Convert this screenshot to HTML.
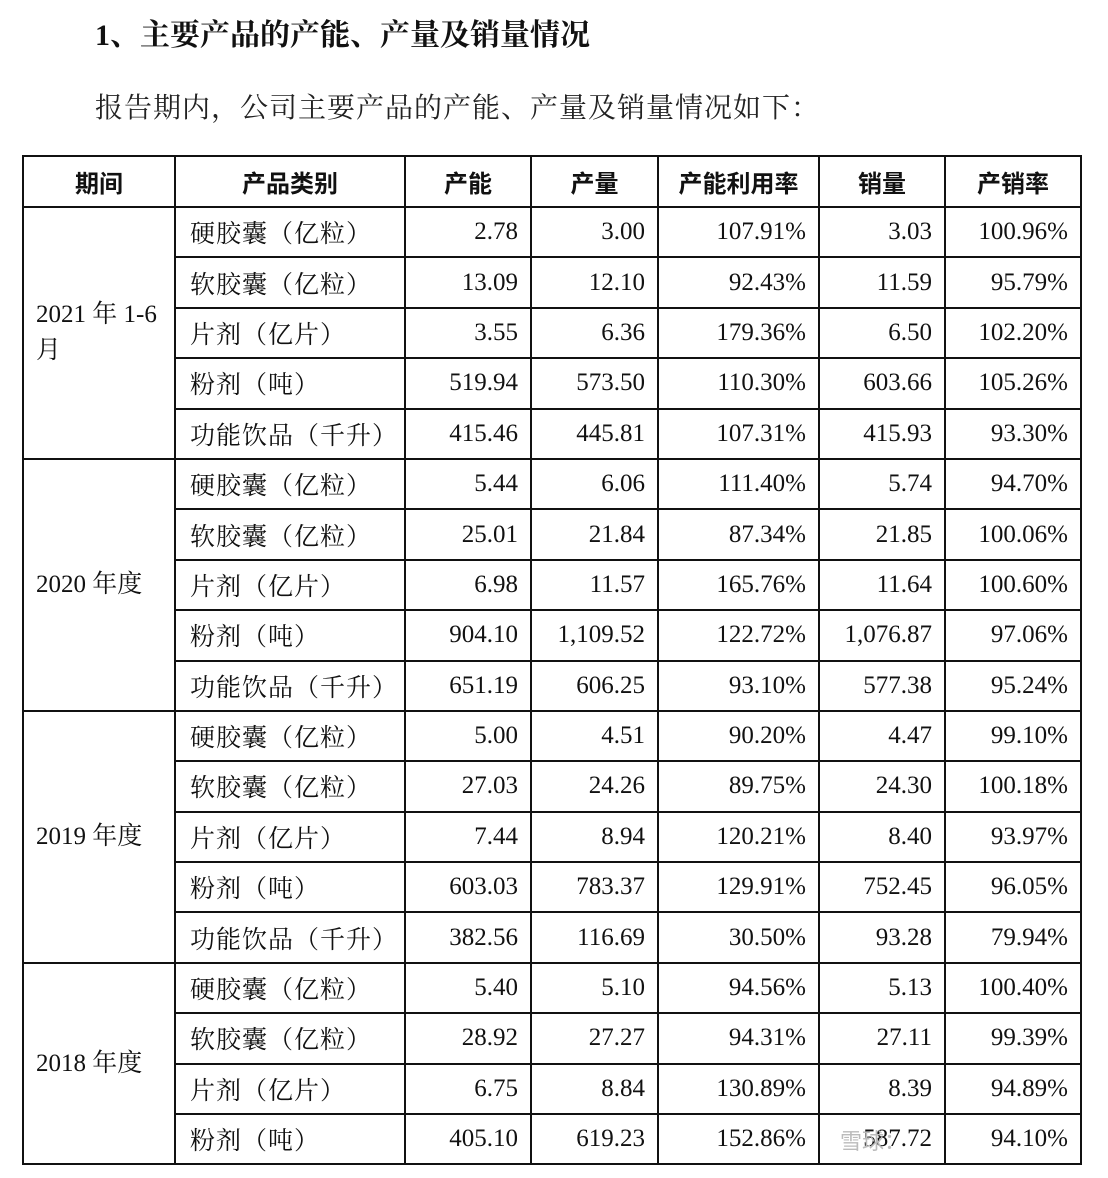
<!DOCTYPE html>
<html><head><meta charset="utf-8"><style>
html,body{margin:0;padding:0;background:#fff;width:1108px;height:1178px;overflow:hidden;position:relative}
.t1{position:absolute;left:95px;top:10px;font:bold 30px "Liberation Serif","Noto Serif CJK SC",serif;color:#111}
.t2{position:absolute;left:95px;top:86px;font:28px "Liberation Serif","Noto Serif CJK SC",serif;color:#222;letter-spacing:1px}
table{position:absolute;left:22px;top:155px;border-collapse:collapse;table-layout:fixed;width:1058px}
tr{height:50.4px}
tr.h{height:51px}
td,th{border:2px solid #111;padding:0 12px;font:25px "Liberation Serif","Noto Serif CJK SC",serif;color:#111;white-space:nowrap;overflow:hidden}
th{font:bold 24px "Noto Sans CJK SC",sans-serif;text-align:center}
td.n{text-align:right}
td.c{text-align:left;padding-left:12px;white-space:normal;line-height:36px}
td.p{padding-left:14px;letter-spacing:1px}
.wm{position:absolute;left:840px;top:1124px;font:22px "Noto Sans CJK SC",sans-serif;color:#bbb}
</style></head><body>
<div class="t1">1、主要产品的产能、产量及销量情况</div>
<div class="t2">报告期内，公司主要产品的产能、产量及销量情况如下：</div>
<table>
<colgroup><col style="width:152px"><col style="width:230px"><col style="width:126px"><col style="width:127px"><col style="width:161px"><col style="width:126px"><col style="width:136px"></colgroup>
<tr class="h"><th>期间</th><th>产品类别</th><th>产能</th><th>产量</th><th>产能利用率</th><th>销量</th><th>产销率</th></tr>
<tr><td class="c" rowspan="5">2021 年 1-6 月</td><td class="p">硬胶囊（亿粒）</td><td class="n">2.78</td><td class="n">3.00</td><td class="n">107.91%</td><td class="n">3.03</td><td class="n">100.96%</td></tr>
<tr><td class="p">软胶囊（亿粒）</td><td class="n">13.09</td><td class="n">12.10</td><td class="n">92.43%</td><td class="n">11.59</td><td class="n">95.79%</td></tr>
<tr><td class="p">片剂（亿片）</td><td class="n">3.55</td><td class="n">6.36</td><td class="n">179.36%</td><td class="n">6.50</td><td class="n">102.20%</td></tr>
<tr><td class="p">粉剂（吨）</td><td class="n">519.94</td><td class="n">573.50</td><td class="n">110.30%</td><td class="n">603.66</td><td class="n">105.26%</td></tr>
<tr><td class="p">功能饮品（千升）</td><td class="n">415.46</td><td class="n">445.81</td><td class="n">107.31%</td><td class="n">415.93</td><td class="n">93.30%</td></tr>
<tr><td class="c" rowspan="5">2020 年度</td><td class="p">硬胶囊（亿粒）</td><td class="n">5.44</td><td class="n">6.06</td><td class="n">111.40%</td><td class="n">5.74</td><td class="n">94.70%</td></tr>
<tr><td class="p">软胶囊（亿粒）</td><td class="n">25.01</td><td class="n">21.84</td><td class="n">87.34%</td><td class="n">21.85</td><td class="n">100.06%</td></tr>
<tr><td class="p">片剂（亿片）</td><td class="n">6.98</td><td class="n">11.57</td><td class="n">165.76%</td><td class="n">11.64</td><td class="n">100.60%</td></tr>
<tr><td class="p">粉剂（吨）</td><td class="n">904.10</td><td class="n">1,109.52</td><td class="n">122.72%</td><td class="n">1,076.87</td><td class="n">97.06%</td></tr>
<tr><td class="p">功能饮品（千升）</td><td class="n">651.19</td><td class="n">606.25</td><td class="n">93.10%</td><td class="n">577.38</td><td class="n">95.24%</td></tr>
<tr><td class="c" rowspan="5">2019 年度</td><td class="p">硬胶囊（亿粒）</td><td class="n">5.00</td><td class="n">4.51</td><td class="n">90.20%</td><td class="n">4.47</td><td class="n">99.10%</td></tr>
<tr><td class="p">软胶囊（亿粒）</td><td class="n">27.03</td><td class="n">24.26</td><td class="n">89.75%</td><td class="n">24.30</td><td class="n">100.18%</td></tr>
<tr><td class="p">片剂（亿片）</td><td class="n">7.44</td><td class="n">8.94</td><td class="n">120.21%</td><td class="n">8.40</td><td class="n">93.97%</td></tr>
<tr><td class="p">粉剂（吨）</td><td class="n">603.03</td><td class="n">783.37</td><td class="n">129.91%</td><td class="n">752.45</td><td class="n">96.05%</td></tr>
<tr><td class="p">功能饮品（千升）</td><td class="n">382.56</td><td class="n">116.69</td><td class="n">30.50%</td><td class="n">93.28</td><td class="n">79.94%</td></tr>
<tr><td class="c" rowspan="4">2018 年度</td><td class="p">硬胶囊（亿粒）</td><td class="n">5.40</td><td class="n">5.10</td><td class="n">94.56%</td><td class="n">5.13</td><td class="n">100.40%</td></tr>
<tr><td class="p">软胶囊（亿粒）</td><td class="n">28.92</td><td class="n">27.27</td><td class="n">94.31%</td><td class="n">27.11</td><td class="n">99.39%</td></tr>
<tr><td class="p">片剂（亿片）</td><td class="n">6.75</td><td class="n">8.84</td><td class="n">130.89%</td><td class="n">8.39</td><td class="n">94.89%</td></tr>
<tr><td class="p">粉剂（吨）</td><td class="n">405.10</td><td class="n">619.23</td><td class="n">152.86%</td><td class="n">587.72</td><td class="n">94.10%</td></tr>
</table>
<div class="wm">雪球：</div>
</body></html>
